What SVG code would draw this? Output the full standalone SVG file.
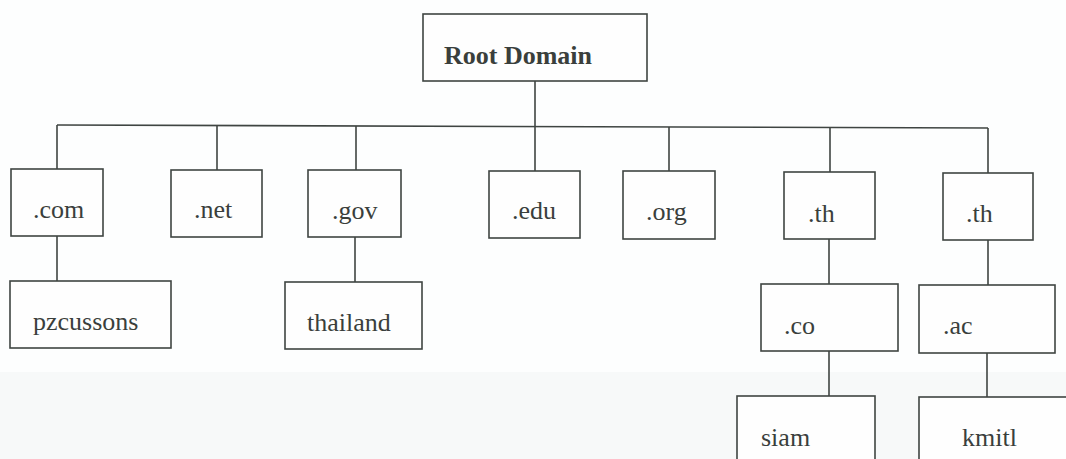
<svg xmlns="http://www.w3.org/2000/svg" width="1066" height="459" viewBox="0 0 1066 459">
<style>
.box{fill:#fefefe;stroke:#3f4542;stroke-width:1.6}
.lbl{font-size:26px;fill:#3a3f3c}
.root{font-weight:bold;font-size:26px}
.conn{stroke:#3f4542;stroke-width:1.6;fill:none}
</style>
<rect x="0" y="0" width="1066" height="459" fill="#fdfefe"/>
<rect x="0" y="372" width="1066" height="87" fill="#f7f9f9"/>
<g id="connectors">
<path class="conn" d="M535 81V126"/>
<path class="conn" d="M57 125L988 128"/>
<path class="conn" d="M57 125V169"/>
<path class="conn" d="M217 125V170"/>
<path class="conn" d="M356 126V170"/>
<path class="conn" d="M535 126V171"/>
<path class="conn" d="M669 127V171"/>
<path class="conn" d="M830 127V172"/>
<path class="conn" d="M988 128V173"/>
<path class="conn" d="M57 236V281"/>
<path class="conn" d="M355 237V282"/>
<path class="conn" d="M829 239V284"/>
<path class="conn" d="M829 351V396"/>
<path class="conn" d="M988 240V285"/>
<path class="conn" d="M987 353V397"/>
</g>
<g font-family="Liberation Serif, Tinos, Times New Roman, DejaVu Serif, serif">
<g id="root"><rect class="box" x="423" y="14" width="224" height="67"/><text class="lbl root" x="444" y="64">Root Domain</text></g>
<g id="com"><rect class="box" x="11" y="169" width="92" height="67"/><text class="lbl" x="33" y="218">.com</text></g>
<g id="net"><rect class="box" x="171" y="170" width="91" height="67"/><text class="lbl" x="194" y="218">.net</text></g>
<g id="gov"><rect class="box" x="308" y="170" width="93" height="67"/><text class="lbl" x="332" y="219">.gov</text></g>
<g id="edu"><rect class="box" x="489" y="171" width="91" height="67"/><text class="lbl" x="512" y="219">.edu</text></g>
<g id="org"><rect class="box" x="623" y="171" width="92" height="68"/><text class="lbl" x="646" y="220">.org</text></g>
<g id="th1"><rect class="box" x="784" y="172" width="91" height="67"/><text class="lbl" x="808" y="222">.th</text></g>
<g id="th2"><rect class="box" x="943" y="173" width="90" height="67"/><text class="lbl" x="966" y="222">.th</text></g>
<g id="pzcussons"><rect class="box" x="10" y="281" width="161" height="67"/><text class="lbl" x="33" y="330">pzcussons</text></g>
<g id="thailand"><rect class="box" x="285" y="282" width="137" height="67"/><text class="lbl" x="307" y="331">thailand</text></g>
<g id="co"><rect class="box" x="761" y="284" width="137" height="67"/><text class="lbl" x="784" y="334">.co</text></g>
<g id="ac"><rect class="box" x="919" y="285" width="136" height="68"/><text class="lbl" x="943" y="334">.ac</text></g>
<g id="siam"><rect class="box" x="737" y="396" width="138" height="80"/><text class="lbl" x="761" y="446">siam</text></g>
<g id="kmitl"><rect class="box" x="919" y="397" width="160" height="80"/><text class="lbl" x="962" y="446">kmitl</text></g>
</g>
</svg>
